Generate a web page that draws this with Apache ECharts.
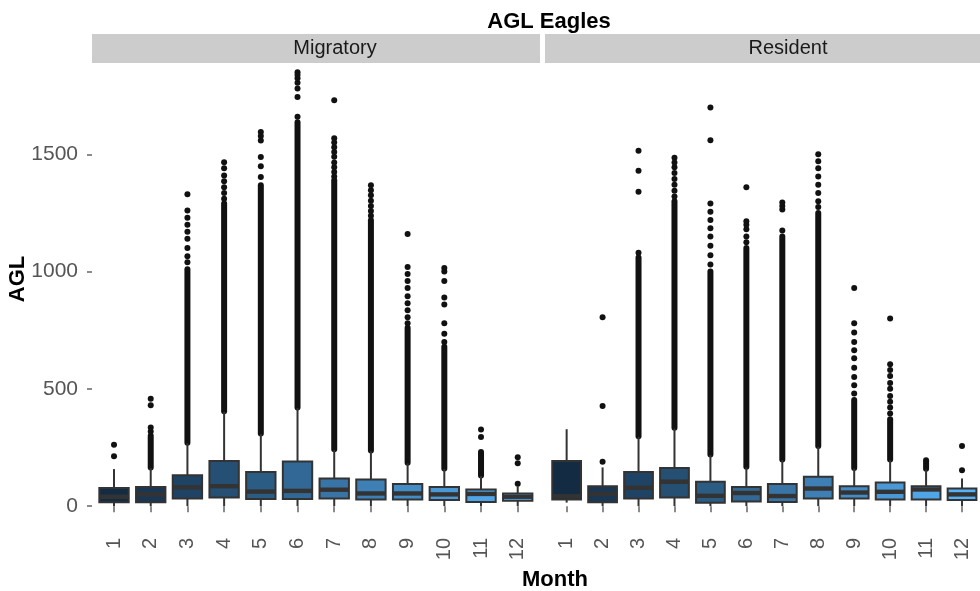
<!DOCTYPE html>
<html>
<head>
<meta charset="utf-8">
<script src="https://cdn.jsdelivr.net/npm/echarts@6/dist/echarts.min.js"></script>
<style>
  html, body { margin: 0; padding: 0; background: #ffffff; }
  #chart { width: 980px; height: 591px; }
</style>
</head>
<body>
<div id="chart"></div>
<script>
// Months on the x axis of both panels
const months = ['1', '2', '3', '4', '5', '6', '7', '8', '9', '10', '11', '12'];
const yTicks = [0, 500, 1000, 1500];
const panelNames = ['Migratory', 'Resident'];

// Box statistics per month: [lower whisker, Q1, median, Q3, upper whisker]
const migratoryBoxes = [
  [0, 17, 40, 77, 158],
  [0, 17, 50, 82, 162],
  [0, 33, 80, 132, 268],
  [0, 37, 85, 192, 402],
  [0, 30, 62, 146, 307],
  [0, 30, 65, 190, 418],
  [0, 33, 70, 118, 239],
  [0, 28, 54, 114, 234],
  [0, 28, 54, 94, 182],
  [0, 26, 50, 82, 158],
  [0, 18, 52, 71, 128],
  [0, 23, 40, 54, 85]
];
const residentBoxes = [
  [15, 28, 42, 192, 328],
  [0, 16, 52, 85, 165],
  [0, 33, 78, 146, 295],
  [0, 37, 104, 163, 331],
  [0, 14, 44, 104, 217],
  [0, 20, 56, 82, 165],
  [0, 18, 43, 94, 196],
  [0, 33, 75, 125, 253],
  [0, 33, 58, 85, 160],
  [0, 28, 61, 101, 196],
  [0, 28, 71, 85, 156],
  [0, 26, 50, 75, 118]
];

// Dense outlier runs per month, drawn as solid stacks of points: [from, to] or null
const migratoryOutlierRuns = [
  null, [165, 300], [270, 1010], [405, 1290], [310, 1368], [420, 1637],
  [242, 1389], [237, 1219], [185, 760], [160, 680], [131, 231], null
];
const residentOutlierRuns = [
  null, null, [298, 1060], [334, 1300], [220, 1000], [168, 1100],
  [199, 1150], [256, 1250], [163, 452], [199, 370], [159, 196], null
];

// Isolated outliers per month
const migratoryOutliers = [
  [213, 262],
  [318, 335, 430, 458],
  [1040, 1065, 1100, 1140, 1170, 1200, 1230, 1260, 1330],
  [1310, 1335, 1360, 1385, 1410, 1440, 1466],
  [1403, 1449, 1488, 1559, 1578, 1595],
  [1660, 1744, 1781, 1805, 1824, 1838, 1850],
  [1405, 1425, 1445, 1465, 1490, 1510, 1530, 1550, 1568, 1730],
  [1238, 1258, 1280, 1302, 1325, 1347, 1368],
  [780, 805, 835, 865, 895, 930, 960, 990, 1020, 1160],
  [700, 735, 780, 860, 890, 960, 1000, 1015],
  [295, 327],
  [95, 183, 208]
];
const residentOutliers = [
  [],
  [189, 427, 805],
  [1080, 1340, 1430, 1515],
  [1320, 1345, 1370, 1395, 1420, 1445, 1465, 1485],
  [1030, 1070, 1110, 1150, 1185, 1220, 1255, 1290, 1560, 1700],
  [1125, 1150, 1180, 1200, 1215, 1360],
  [1175, 1265, 1280, 1295],
  [1275, 1300, 1335, 1370, 1405, 1440, 1470, 1500],
  [480, 515, 550, 590, 630, 665, 700, 740, 780, 930],
  [395, 420, 445, 470, 500, 525, 555, 580, 605, 800],
  [],
  [153, 256]
];

const FONT = "'Liberation Sans', Arial, sans-serif";
const EDGE = '#333333';
const DOT = '#111111';
const FILL_LOW = [19, 43, 67];     // #132B43
const FILL_HIGH = [86, 177, 247];  // #56B1F7

function monthFill(i) {
  const t = i / 11;
  const c = FILL_LOW.map((v, k) => Math.round(v + (FILL_HIGH[k] - v) * t));
  return 'rgb(' + c.join(',') + ')';
}

function boxSeries(g, boxes) {
  return {
    type: 'custom',
    xAxisIndex: g,
    yAxisIndex: g,
    z: 3,
    data: boxes.map((b, i) => [i].concat(b)),
    encode: { x: 0, y: [1, 2, 3, 4, 5] },
    renderItem: function (params, api) {
      const i = api.value(0);
      const band = api.size([1, 0])[0];
      const w = band * 0.8;
      const pLow = api.coord([i, api.value(1)]);
      const pQ1 = api.coord([i, api.value(2)]);
      const pMed = api.coord([i, api.value(3)]);
      const pQ3 = api.coord([i, api.value(4)]);
      const pHigh = api.coord([i, api.value(5)]);
      const cx = pLow[0];
      return {
        type: 'group',
        children: [
          { type: 'line', shape: { x1: cx, y1: pHigh[1], x2: cx, y2: pQ3[1] }, style: { stroke: EDGE, lineWidth: 2 } },
          { type: 'line', shape: { x1: cx, y1: pQ1[1], x2: cx, y2: pLow[1] }, style: { stroke: EDGE, lineWidth: 2 } },
          { type: 'rect', shape: { x: cx - w / 2, y: pQ3[1], width: w, height: pQ1[1] - pQ3[1] },
            style: { fill: monthFill(i), stroke: EDGE, lineWidth: 2 } },
          { type: 'rect', shape: { x: cx - w / 2, y: pMed[1] - 2.2, width: w, height: 4.4 },
            style: { fill: EDGE } }
        ]
      };
    }
  };
}

function runSeries(g, runs) {
  const data = [];
  runs.forEach((r, i) => { if (r) data.push([i, r[0], r[1]]); });
  return {
    type: 'custom',
    xAxisIndex: g,
    yAxisIndex: g,
    z: 2,
    data: data,
    encode: { x: 0, y: [1, 2] },
    renderItem: function (params, api) {
      const a = api.coord([api.value(0), api.value(1)]);
      const b = api.coord([api.value(0), api.value(2)]);
      return {
        type: 'line',
        shape: { x1: a[0], y1: a[1], x2: b[0], y2: b[1] },
        style: { stroke: DOT, lineWidth: 6, lineCap: 'round' }
      };
    }
  };
}

function pointSeries(g, lists) {
  const data = [];
  lists.forEach((vals, i) => vals.forEach(v => data.push([i, v])));
  return {
    type: 'scatter',
    xAxisIndex: g,
    yAxisIndex: g,
    z: 2,
    symbol: 'circle',
    symbolSize: 6,
    itemStyle: { color: DOT, opacity: 1 },
    silent: true,
    data: data
  };
}

const band = 36.7;
const panels = [
  { stripX: 92, stripW: 448 },
  { stripX: 545, stripW: 447 }
];

const grids = panels.map(p => ({
  left: p.stripX + band * 0.1,
  top: 64,
  width: band * 12,
  height: 463,
  containLabel: false
}));

const xAxes = panels.map((p, g) => ({
  gridIndex: g,
  type: 'category',
  data: months,
  axisLine: { show: false },
  axisTick: { show: true, alignWithLabel: true, length: 6, lineStyle: { color: '#666666', width: 1.5 } },
  axisLabel: { rotate: 90, margin: 11, color: '#555555', fontSize: 20, fontFamily: FONT },
  splitLine: { show: false }
}));

const yAxes = panels.map((p, g) => ({
  gridIndex: g,
  type: 'value',
  min: -89,
  max: 1885,
  offset: band * 0.1,
  axisLine: { show: false },
  axisTick: { show: g === 0, length: 5, customValues: yTicks, lineStyle: { color: '#666666', width: 1.5 } },
  axisLabel: { show: g === 0, customValues: yTicks, formatter: v => String(v),
               margin: 14, color: '#555555', fontSize: 21, fontFamily: FONT },
  splitLine: { show: false }
}));

const graphics = [
  { type: 'text', x: 549, y: 22,
    style: { text: 'AGL Eagles', font: 'bold 22px ' + FONT, fill: '#000000', textAlign: 'center', textVerticalAlign: 'middle' } },
  { type: 'text', x: 18, y: 279, rotation: Math.PI / 2,
    style: { text: 'AGL', font: 'bold 22px ' + FONT, fill: '#000000', textAlign: 'center', textVerticalAlign: 'middle' } },
  { type: 'text', x: 555, y: 580,
    style: { text: 'Month', font: 'bold 22px ' + FONT, fill: '#000000', textAlign: 'center', textVerticalAlign: 'middle' } }
];
const stripTextX = [335, 788];
panels.forEach((p, g) => {
  graphics.push({ type: 'rect', shape: { x: p.stripX, y: 34, width: p.stripW, height: 29 }, style: { fill: '#cccccc' } });
  graphics.push({ type: 'text', x: stripTextX[g], y: 48,
    style: { text: panelNames[g], font: '20px ' + FONT, fill: '#1a1a1a', textAlign: 'center', textVerticalAlign: 'middle' } });
});

const chart = echarts.init(document.getElementById('chart'), null, { renderer: 'canvas' });
chart.setOption({
  animation: false,
  backgroundColor: '#ffffff',
  grid: grids,
  xAxis: xAxes,
  yAxis: yAxes,
  graphic: graphics,
  series: [
    runSeries(0, migratoryOutlierRuns),
    pointSeries(0, migratoryOutliers),
    boxSeries(0, migratoryBoxes),
    runSeries(1, residentOutlierRuns),
    pointSeries(1, residentOutliers),
    boxSeries(1, residentBoxes)
  ]
});
</script>
</body>
</html>
